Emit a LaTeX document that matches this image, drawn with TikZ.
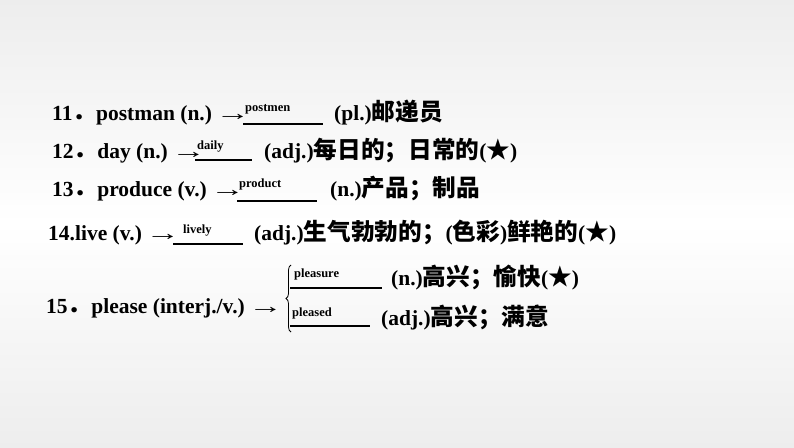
\documentclass[tikz,border=0pt]{standalone}
\usepackage{fontspec}
\setmainfont{Liberation Serif}
\newfontfamily\cjk{Noto Sans CJK SC}[Scale=1.1]
\usetikzlibrary{decorations.pathreplacing}
\newcommand{\C}[1]{{\cjk #1}}
\newcommand{\Ar}{\,\scalebox{1.6}[1]{\mdseries →}}
\pgfdeclareverticalshading{bgshade}{100bp}{color(0bp)=(black!14); color(50bp)=(white); color(100bp)=(black!14)}
\begin{document}
\begin{tikzpicture}[x=1pt,y=-1pt,
  txt/.style={anchor=base west,inner sep=0pt,font=\fontsize{21.5}{22}\selectfont\bfseries},
  ans/.style={anchor=base west,inner sep=0pt,font=\fontsize{12.5}{13}\selectfont\bfseries},
  ul/.style={line width=1.5pt}]
\shade[shading=bgshade] (0,0) rectangle (794,447);
\useasboundingbox (0,0) rectangle (794,447);
% row 11
\node[txt] (l11) at (52,120) {11\C{．}postman (n.)\Ar};
\coordinate (a11) at (243,124); \coordinate (b11) at (323,124);
\draw[ul] (a11) -- (b11);
\node[ans] (w11) at (245,111) {postmen};
\node[txt] (r11) at (334,120) {(pl.)\C{邮递员}};
% row 12
\node[txt] (l12) at (52,158) {12\C{．}day (n.)\Ar};
\coordinate (a12) at (195,160); \coordinate (b12) at (252,160);
\draw[ul] (a12) -- (b12);
\node[ans] (w12) at (197,149) {daily};
\node[txt] (r12) at (264,158) {(adj.)\C{每日的；日常的}(\C{★})};
% row 13
\node[txt] (l13) at (52,196) {13\C{．}produce (v.)\Ar};
\coordinate (a13) at (237,201); \coordinate (b13) at (317,201);
\draw[ul] (a13) -- (b13);
\node[ans] (w13) at (239,187) {product};
\node[txt] (r13) at (330,196) {(n.)\C{产品；制品}};
% row 14
\node[txt] (l14) at (48,240) {14.live (v.)\Ar};
\coordinate (a14) at (173,244); \coordinate (b14) at (243,244);
\draw[ul] (a14) -- (b14);
\node[ans] (w14) at (183,233) {lively};
\node[txt] (r14) at (254,240) {(adj.)\C{生气勃勃的；}(\C{色彩})\C{鲜艳的}(\C{★})};
% row 15
\node[txt] (l15) at (46,313) {15\C{．}please (interj./v.)\Ar};
\coordinate (bt) at (291,332); \coordinate (bb) at (291,265);
\draw[line width=0.8pt,decorate,decoration={brace,amplitude=5pt}] (bt) -- (bb);
\coordinate (a15) at (290,288); \coordinate (b15) at (382,288);
\draw[ul] (a15) -- (b15);
\node[ans] (w15) at (294,277) {pleasure};
\node[txt] (r15) at (391,285) {(n.)\C{高兴；愉快}(\C{★})};
\coordinate (a16) at (290,326); \coordinate (b16) at (370,326);
\draw[ul] (a16) -- (b16);
\node[ans] (w16) at (292,316) {pleased};
\node[txt] (r16) at (381,325) {(adj.)\C{高兴；满意}};
\end{tikzpicture}
\end{document}
